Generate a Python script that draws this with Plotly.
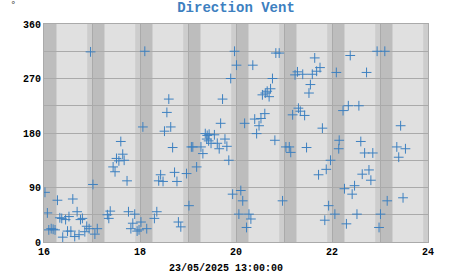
import plotly.graph_objects as go

# time in decimal hours, wind direction in degrees
hours = [16.02, 16.07, 16.10, 16.15, 16.19, 16.23, 16.28, 16.33, 16.37, 16.39, 16.45, 16.49, 16.52, 16.56,
         16.60, 16.64, 16.69, 16.73, 16.76, 16.80, 16.85, 16.89, 16.94, 16.97, 17.02, 17.06, 17.11,
         17.32, 17.35, 17.38, 17.44, 17.48, 17.51, 17.56, 17.60, 17.64, 17.67, 17.73, 17.76, 17.81,
         17.85, 17.89, 17.94, 17.98, 18.02, 18.06, 18.10, 18.14, 18.30, 18.35, 18.39, 18.43, 18.48,
         18.51, 18.56, 18.60, 18.64, 18.68, 18.72, 18.77, 18.80, 18.85, 18.97, 19.02, 19.07, 19.10,
         19.18, 19.27, 19.31, 19.36, 19.39, 19.40, 19.43, 19.44, 19.48, 19.55, 19.61, 19.65, 19.68,
         19.72, 19.77, 19.81, 19.85, 19.89, 19.93, 19.97, 20.01, 20.06, 20.10, 20.14, 20.18, 20.22,
         20.27, 20.31, 20.35, 20.39, 20.43, 20.48, 20.52, 20.55, 20.60, 20.61, 20.65, 20.69, 20.72,
         20.76, 20.81, 20.83, 20.90, 20.97, 21.04, 21.11, 21.14, 21.18, 21.23, 21.28, 21.30, 21.34,
         21.39, 21.43, 21.47, 21.52, 21.55, 21.59, 21.64, 21.68, 21.72, 21.75, 21.80, 21.85, 21.88,
         21.93, 21.97, 22.06, 22.09, 22.14, 22.15, 22.23, 22.26, 22.30, 22.34, 22.38, 22.42, 22.47,
         22.52, 22.56, 22.60, 22.63, 22.68, 22.72, 22.77, 22.81, 22.85, 22.94, 22.98, 23.01, 23.10,
         23.15, 23.35, 23.39, 23.43, 23.48, 23.53]
direction = [82, 48, 20, 22, 21, 20, 69, 40, 39, 8, 37, 18, 42, 18,
             71, 9, 50, 12, 37, 39, 17, 26, 22, 314, 95, 13, 22,
             45, 39, 51, 124, 116, 138, 134, 166, 145, 135, 101, 50, 22,
             31, 46, 18, 20, 33, 190, 315, 22, 39, 50, 101, 111, 100,
             183, 214, 236, 190, 156, 115, 100, 33, 25, 113, 60, 157, 157,
             124, 157, 146, 179, 170, 176, 167, 178, 163, 177, 163, 154, 196,
             236, 170, 158, 135, 270, 79, 315, 292, 46, 85, 68, 196, 24,
             46, 38, 292, 203, 179, 192, 204, 243, 212, 246, 249, 240, 253,
             270, 168, 312, 312, 68, 157, 157, 148, 210, 276, 281, 221, 216,
             277, 209, 156, 246, 260, 277, 304, 282, 111, 288, 188, 36, 120,
             60, 135, 46, 280, 154, 168, 217, 88, 30, 225, 308, 79, 93,
             46, 225, 166, 112, 147, 280, 119, 102, 147, 315, 24, 46, 315,
             68, 157, 140, 192, 73, 154]

band_hours = [16, 17, 18, 19, 20, 21, 22, 23, 24]
x_ticks = [16, 18, 20, 22, 24]
y_ticks = [0, 90, 180, 270, 360]

LIGHT = "#e0e0e0"
MED = "#cdcdcd"
DARK = "#bdbdbd"
GRID = "#aaaaaa"
BLUE = "#3d80c0"
FONT = "Liberation Mono"

fig = go.Figure()
fig.add_trace(go.Scatter(
    x=hours, y=direction, mode="markers",
    marker=dict(symbol="cross-thin-open", size=7, color=BLUE,
                line=dict(color=BLUE, width=1)),
    showlegend=False, hoverinfo="skip"))

shapes = []
for h in band_hours:
    if h > 16:
        shapes.append(dict(type="rect", xref="x", yref="paper", x0=h - 0.1, x1=h, y0=0, y1=1,
                           fillcolor=MED, line=dict(width=0), layer="below"))
    if h < 24:
        shapes.append(dict(type="rect", xref="x", yref="paper", x0=h, x1=h + 0.26, y0=0, y1=1,
                           fillcolor=DARK, line=dict(width=0), layer="below"))

fig.update_layout(
    width=451, height=275,
    margin=dict(l=43.5, r=22.5, t=24, b=33),
    paper_bgcolor="white", plot_bgcolor=LIGHT,
    shapes=shapes,
    title=dict(text="<b>Direction Vent</b>", x=0.5, xref="paper", xanchor="center",
               y=1 - 7.5 / 275, yanchor="middle", yref="container",
               font=dict(family=FONT, size=14, color=BLUE)),
    font=dict(family=FONT, size=10, color="black"),
    annotations=[
        dict(text="<b>23/05/2025 13:00:00</b>", xref="paper", yref="paper",
             x=(225.5 - 43.5) / 385, y=-(268 - 242) / 218, xanchor="center", yanchor="middle",
             showarrow=False, font=dict(family=FONT, size=10, color="black")),
        dict(text="°", xref="paper", yref="paper", x=(13 - 43.5) / 385, y=1 + (24 - 5) / 218,
             xanchor="center", yanchor="middle", showarrow=False,
             font=dict(family="DejaVu Sans", size=9, color="#444444")),
    ],
)
fig.update_xaxes(range=[16, 24], tickvals=x_ticks, ticktext=[f"<b>{v}</b>" for v in x_ticks],
                 showgrid=True, gridcolor=GRID, gridwidth=1, zeroline=False,
                 ticks="", showline=True, linecolor=GRID, mirror=True,
                 minor=dict(dtick=1, tick0=16, showgrid=True, gridcolor=GRID, gridwidth=1))
fig.update_yaxes(range=[0, 360], tickvals=y_ticks, ticktext=[f"<b>{v}</b>" for v in y_ticks],
                 showgrid=True, gridcolor=GRID, gridwidth=1, zeroline=False,
                 ticks="", showline=True, linecolor=GRID, mirror=True,
                 minor=dict(dtick=45, tick0=0, showgrid=True, gridcolor=GRID, gridwidth=1))

fig.write_html("out.html")
